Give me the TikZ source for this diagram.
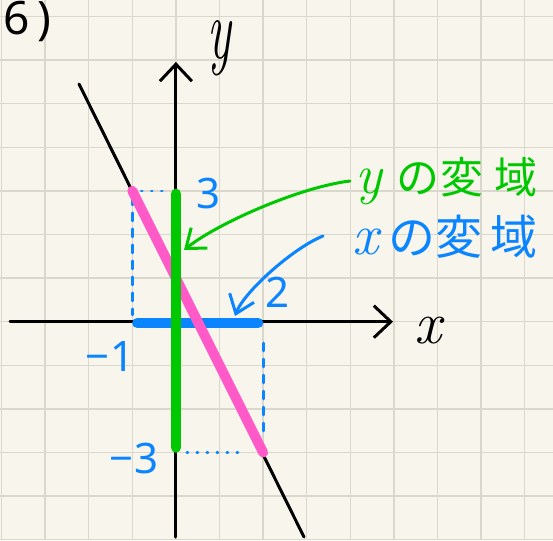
\documentclass[tikz,border=0pt]{standalone}
\usepackage{fontspec}
\setmainfont{Noto Sans}
\newfontfamily\jpfont{Noto Sans CJK JP}
\newfontfamily\lmfont{Latin Modern Roman}
\usetikzlibrary{arrows.meta}
\definecolor{paper}{RGB}{248,246,236}
\definecolor{gridc}{RGB}{218,216,204}
\definecolor{myblue}{RGB}{10,132,255}
\definecolor{mygreen}{RGB}{0,200,0}
\definecolor{mypink}{RGB}{255,90,200}
\newcommand{\vari}[2]{{\fontsize{#1}{#1}\selectfont\lmfont\itshape #2}}
\begin{document}
\begin{tikzpicture}[x=1pt,y=-1pt,
  gridline/.style={gridc,line width=1.3pt},
  blk/.style={black,line width=3pt,line cap=round},
  axis/.style={blk,-{Straight Barb[length=17pt,width=32pt,line width=3pt]}},
  dashb/.style={myblue,line width=2.8pt,line cap=round,dash pattern=on 8pt off 8pt},
  dotb/.style={myblue,line width=2.8pt,line cap=round,dash pattern=on 1pt off 9pt},
  thick band/.style={line width=10.5pt,line cap=round},
  bluetxt/.style={text=myblue,inner sep=0pt},
  note/.style={line width=3pt,line cap=round,-{Straight Barb[length=17pt,width=26pt,line width=3pt]}},
  numfont/.style={font=\fontsize{42}{42}\selectfont},
  jplabel/.style={inner sep=0pt,anchor=base west,font=\fontsize{#1}{#1}\selectfont\jpfont}
]
\useasboundingbox (0,0) rectangle (553,540);
\fill[paper] (0,0) rectangle (553,540);
\foreach \k in {0,...,12}{
  \draw[gridline] ({1.5+43.6*\k},0) -- ({1.5+43.6*\k},540);
  \draw[gridline] (0,{16.5+43.6*\k}) -- (553,{16.5+43.6*\k});
}
% key points
\coordinate (A) at (132.3,190.9);
\coordinate (B) at (263.1,452.5);
\coordinate (Y3) at (175.9,190.9);
\coordinate (Ym3) at (175.9,452.5);
\coordinate (Xm1) at (132.3,323);
\coordinate (X2) at (263.1,323);
\coordinate (L1) at (79,84);
\coordinate (L2) at (304,537);
\coordinate (xs) at (10,321.7);
\coordinate (xe) at (393,321.7);
\coordinate (ys) at (175.9,537);
\coordinate (ye) at (175.9,62);
% line and axes
\draw[blk] (L1) -- (L2);
\draw[axis] (xs) -- (xe);
\draw[axis] (ys) -- (ye);
% guides
\draw[dashb,shorten <=6pt,shorten >=8pt] (A) -- (Xm1);
\draw[dotb,shorten <=9pt,shorten >=6pt] (A) -- (Y3);
\draw[dashb,shorten <=20pt,shorten >=19pt] (X2) -- (B);
\draw[dotb,shorten <=11pt,shorten >=17pt] (Ym3) -- (B);
% ranges
\draw[thick band,myblue,shorten <=5pt,shorten >=5pt] (Xm1) -- (X2);
\draw[thick band,mypink,line width=10pt] (A) -- (B);
\draw[thick band,mygreen,shorten <=3pt,shorten >=5pt] (Y3) -- (Ym3);
% axis labels
\node[inner sep=0pt] (xl) at (428,331) {\vari{60}{x}};
\node[inner sep=0pt,xscale=0.58] (yl) at (219,48) {\vari{86}{y}};
\node[inner sep=0pt,font=\fontsize{46}{46}\selectfont,anchor=west] (title) at (3,21) {6\hspace{8pt})};
% numbers
\node[bluetxt,numfont] (n3) at (209,194) {3};
\node[bluetxt,numfont] (n2) at (278,292) {2};
\node[bluetxt,numfont] (nm1) at (110,357) {−1};
\node[bluetxt,numfont] (nm3) at (134,458) {−3};
% notes
\node[jplabel=43,text=mygreen] (gl) at (355,193) {\vari{56}{y}\hspace{15pt}の\hspace{1pt}変\hspace{11pt}域};
\node[jplabel=47,text=myblue] (bl) at (352,254) {\vari{58}{x}\hspace{10pt}の\hspace{0pt}変\hspace{8pt}域};
\coordinate (gs) at (350,181);
\coordinate (gt) at (184,250);
\coordinate (bs) at (323,236);
\coordinate (bt) at (235,316);
\draw[note,mygreen] (gs) .. controls (300,187) and (218,223) .. (gt);
\draw[note,myblue] (bs) .. controls (293,248) and (244,292) .. (bt);
\end{tikzpicture}
\end{document}
